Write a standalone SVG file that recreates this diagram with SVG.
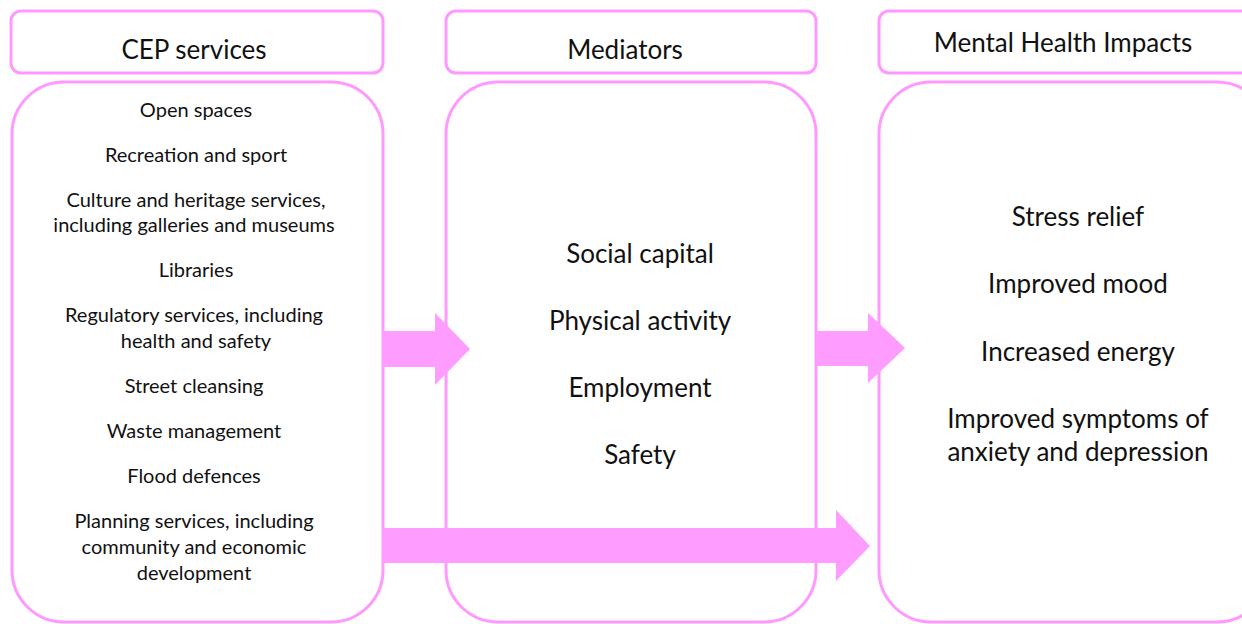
<svg xmlns="http://www.w3.org/2000/svg" width="1242" height="624" viewBox="0 0 1242 624">
  <style>
    .box { fill: #ffffff; stroke: #ff99ff; stroke-width: 3; }
    .arrow { fill: #ff9cff; stroke: none; }
    text { font-family: Lato, "Open Sans", "Liberation Sans", sans-serif; fill: #111111; text-anchor: middle; }
    .head { font-size: 26px; }
    .item { font-size: 20px; }
    .big { font-size: 26px; }
  </style>
  <rect width="1242" height="624" fill="#ffffff"/>

  <g id="cep">
    <rect class="box" x="11" y="11" width="372" height="62" rx="10"/>
    <text class="head" x="194" y="59">CEP services</text>
    <rect class="box" x="12" y="82" width="371" height="540" rx="52"/>
    <text class="item" x="196" y="117">Open spaces</text>
    <text class="item" x="196" y="162">Recreation and sport</text>
    <text class="item" x="196" y="207">Culture and heritage services,</text>
    <text class="item" x="194" y="232">including galleries and museums</text>
    <text class="item" x="196" y="277">Libraries</text>
    <text class="item" x="194" y="322">Regulatory services, including</text>
    <text class="item" x="196" y="348">health and safety</text>
    <text class="item" x="194" y="393">Street cleansing</text>
    <text class="item" x="194" y="438">Waste management</text>
    <text class="item" x="194" y="483">Flood defences</text>
    <text class="item" x="194" y="528">Planning services, including</text>
    <text class="item" x="194" y="554">community and economic</text>
    <text class="item" x="194" y="580">development</text>
  </g>

  <g id="mediators">
    <rect class="box" x="446" y="11" width="370" height="62" rx="10"/>
    <text class="head" x="625" y="59">Mediators</text>
    <rect class="box" x="446" y="82" width="370" height="540" rx="52"/>
    <text class="big" x="640" y="263">Social capital</text>
    <text class="big" x="640" y="330">Physical activity</text>
    <text class="big" x="640" y="397">Employment</text>
    <text class="big" x="640" y="464">Safety</text>
  </g>

  <g id="impacts">
    <rect class="box" x="879" y="11" width="390" height="62" rx="10"/>
    <text class="head" x="1063" y="52">Mental Health Impacts</text>
    <rect class="box" x="879" y="82" width="390" height="540" rx="52"/>
    <text class="big" x="1078" y="226">Stress relief</text>
    <text class="big" x="1078" y="293">Improved mood</text>
    <text class="big" x="1078" y="361">Increased energy</text>
    <text class="big" x="1078" y="428">Improved symptoms of</text>
    <text class="big" x="1078" y="461">anxiety and depression</text>
  </g>

  <g id="connectors">
    <polygon class="arrow" points="383,331 435,331 435,313 470,349 435,385 435,367 383,367"/>
    <polygon class="arrow" points="816,331 868,331 868,313 905,348 868,383 868,366 816,366"/>
    <polygon class="arrow" points="383,528 836,528 836,510 870,546 836,581 836,563 383,563"/>
  </g>
</svg>
